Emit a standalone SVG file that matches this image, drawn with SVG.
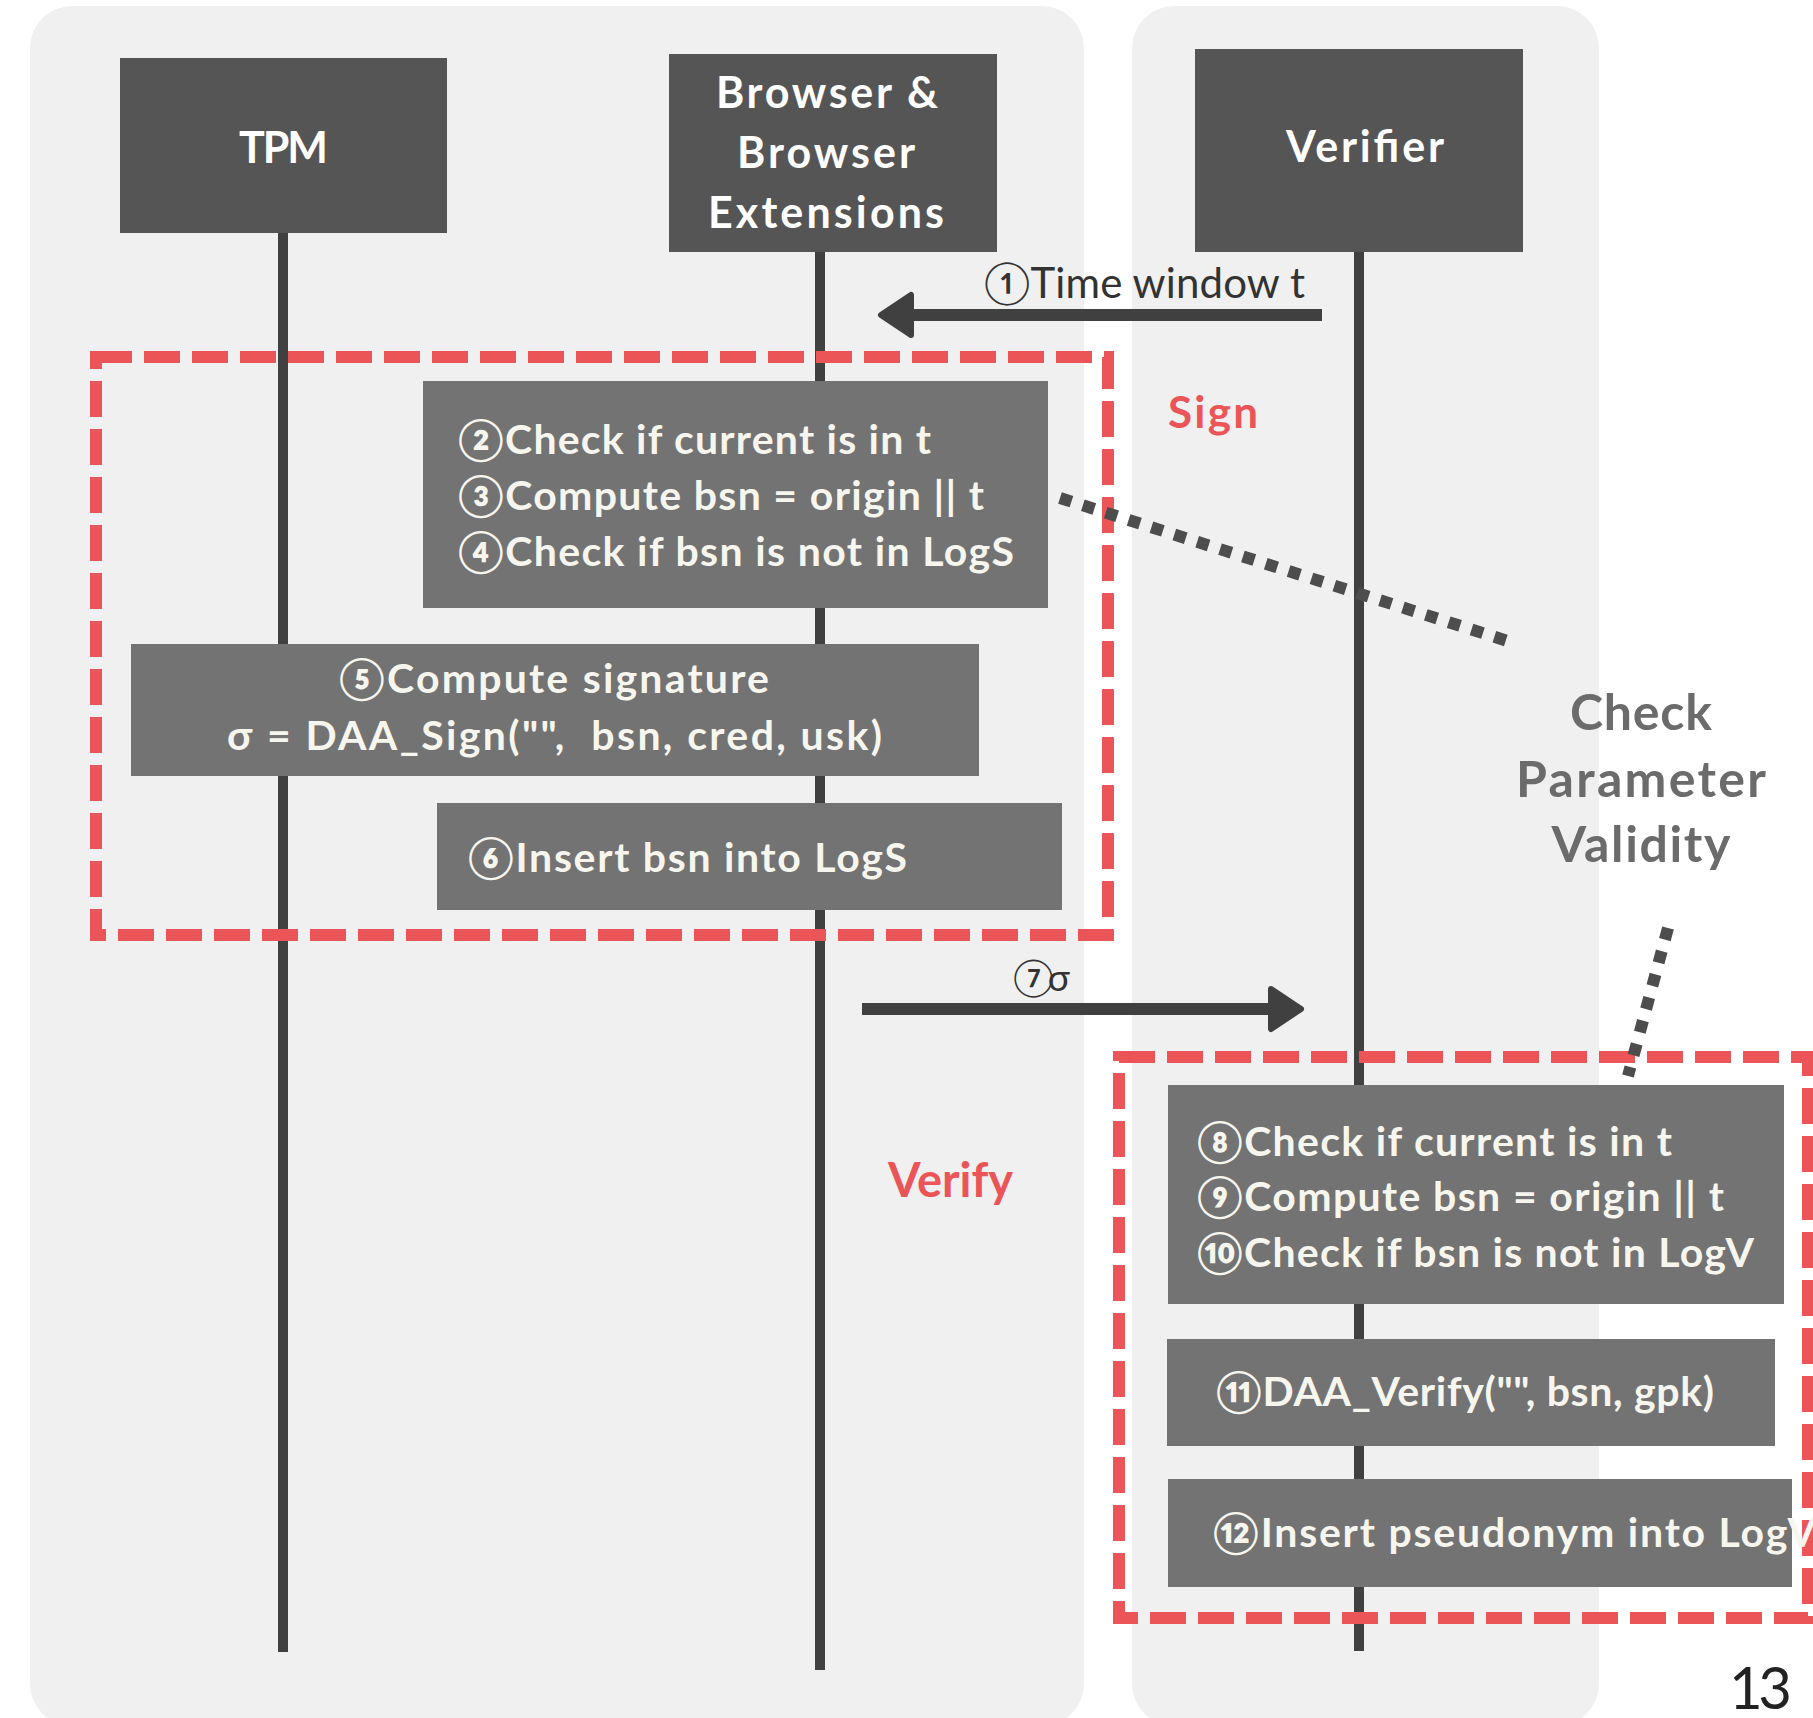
<svg xmlns="http://www.w3.org/2000/svg" width="1813" height="1718" viewBox="0 0 1813 1718">
  <style>
    .panel { fill: #F0F0F0; }
    .head { fill: #555555; }
    .step { fill: #737373; }
    .life { stroke: #404040; stroke-width: 10; fill: none; }
    .frame { fill: none; stroke: #EB5558; stroke-width: 12; stroke-dasharray: 36 12; }
    .dots { fill: none; stroke: #4D4D4D; stroke-width: 12; stroke-dasharray: 12 12; }
    .msg { fill: none; stroke: #404040; stroke-width: 12; }
    .ht { font-family: Lato, "Noto Sans", "Noto Sans CJK JP", sans-serif; font-weight: 700; font-size: 43px; fill: #FFFFFF; text-anchor: middle; }
    .st { font-family: Lato, "Noto Sans", "Noto Sans CJK JP", sans-serif; font-weight: 700; font-size: 41px; fill: #F6F6EF; }
    .lbl { font-family: Lato, "Noto Sans", "Noto Sans CJK JP", sans-serif; font-weight: 400; fill: #333333; }
    .phase { font-family: Lato, "Noto Sans", sans-serif; font-weight: 700; fill: #EB5558; }
    .note { font-family: Lato, "Noto Sans", sans-serif; font-weight: 700; font-size: 50px; fill: #6B6B6B; text-anchor: middle; }
  </style>
  <defs>
    <marker id="head" markerUnits="userSpaceOnUse" markerWidth="40" markerHeight="50" viewBox="0 0 40 50" refX="14" refY="25" orient="auto" overflow="visible">
      <path d="M3,5 L33,25 L3,45 Z" fill="#404040" stroke="#404040" stroke-width="6" stroke-linejoin="round"/>
    </marker>
  </defs>

  <rect width="1813" height="1718" fill="#FFFFFF"/>

  <!-- swimlane panels -->
  <rect class="panel" x="30" y="6" width="1054" height="1720" rx="42"/>
  <rect class="panel" x="1132" y="6" width="467" height="1720" rx="42"/>

  <!-- lifelines -->
  <g id="lifelines">
    <line class="life" x1="283" y1="233" x2="283" y2="1652"/>
    <line class="life" x1="820" y1="252" x2="820" y2="1670"/>
    <line class="life" x1="1359" y1="252" x2="1359" y2="1651"/>
  </g>

  <!-- participants -->
  <g id="tpm">
    <rect class="head" x="120" y="58" width="327" height="175"/>
    <text class="ht" x="283.5" y="163" textLength="89">TPM</text>
  </g>
  <g id="browser">
    <rect class="head" x="669" y="54" width="328" height="198"/>
    <text class="ht" x="827" y="108" textLength="222">Browser &amp;</text>
    <text class="ht" x="826" y="168" textLength="178">Browser</text>
    <text class="ht" x="826" y="228" textLength="236">Extensions</text>
  </g>
  <g id="verifier">
    <rect class="head" x="1195" y="49" width="328" height="203"/>
    <text class="ht" x="1365" y="162" textLength="158">Verifier</text>
  </g>

  <!-- phase frames -->
  <g id="sign-frame">
    <rect class="frame" x="96" y="357" width="1012" height="578"/>
    <text class="phase" x="1168" y="428" font-size="44" textLength="90">Sign</text>
  </g>
  <g id="verify-frame">
    <rect class="frame" x="1119" y="1057" width="689" height="561"/>
    <text class="phase" x="888" y="1197" font-size="47" textLength="125">Verify</text>
  </g>

  <!-- sign steps -->
  <g id="step-2-4">
    <rect class="step" x="423" y="381" width="625" height="227"/>
    <text class="st" x="458" y="454" textLength="473">②Check if current is in t</text>
    <text class="st" x="458" y="510" textLength="526">③Compute bsn = origin || t</text>
    <text class="st" x="458" y="566" textLength="556">④Check if bsn is not in LogS</text>
  </g>
  <g id="step-5">
    <rect class="step" x="131" y="644" width="848" height="132"/>
    <text class="st" x="554" y="693" text-anchor="middle" textLength="430">⑤Compute signature</text>
    <text class="st" x="554.5" y="750" text-anchor="middle" textLength="655" xml:space="preserve">σ = DAA_Sign("",  bsn, cred, usk)</text>
  </g>
  <g id="step-6">
    <rect class="step" x="437" y="803" width="625" height="107"/>
    <text class="st" x="468" y="872" textLength="439">⑥Insert bsn into LogS</text>
  </g>

  <!-- verify steps -->
  <g id="step-8-10">
    <rect class="step" x="1168" y="1085" width="616" height="219"/>
    <text class="st" x="1197" y="1156" textLength="475">⑧Check if current is in t</text>
    <text class="st" x="1197" y="1211" textLength="527">⑨Compute bsn = origin || t</text>
    <text class="st" x="1197" y="1267" textLength="557">⑩Check if bsn is not in LogV</text>
  </g>
  <g id="step-11">
    <rect class="step" x="1167" y="1339" width="608" height="107"/>
    <text class="st" x="1216" y="1406" textLength="498">⑪DAA_Verify("", bsn, gpk)</text>
  </g>
  <g id="step-12">
    <rect class="step" x="1168" y="1479" width="624" height="108"/>
    <text class="st" x="1213" y="1547" textLength="603">⑫Insert pseudonym into LogV</text>
  </g>

  <!-- annotation -->
  <g id="check-note">
    <text class="note" x="1641" y="730" textLength="142">Check</text>
    <text class="note" x="1641" y="797" textLength="250">Parameter</text>
    <text class="note" x="1641" y="862" textLength="179">Validity</text>
  </g>

  <!-- messages and callout leaders -->
  <g id="connectors">
    <line class="msg" x1="1322" y1="315" x2="900" y2="315" marker-end="url(#head)"/>
    <text class="lbl" x="984" y="298" font-size="42" textLength="321">①Time window t</text>
    <line class="msg" x1="862" y1="1009" x2="1282" y2="1009" marker-end="url(#head)"/>
    <text class="lbl" x="1013" y="991" font-size="37" textLength="57">⑦σ</text>
    <line class="dots" x1="1060" y1="498" x2="1517" y2="644"/>
    <line class="dots" x1="1668" y1="928" x2="1628" y2="1076"/>
  </g>

  <text x="1729" y="1709" font-family="Lato, 'Noto Sans', sans-serif" font-size="58" fill="#222222" textLength="63">13</text>
</svg>
